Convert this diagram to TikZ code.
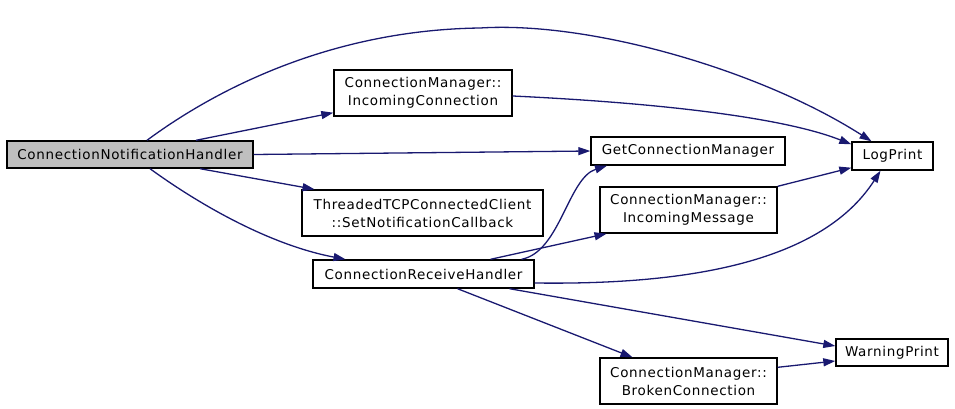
\documentclass[tikz,border=0pt]{standalone}
\usepackage{fontspec}
\setmainfont{DejaVu Sans}[LetterSpace=5]
\usetikzlibrary{arrows.meta}
\definecolor{edgeblue}{RGB}{25,25,112}
\definecolor{rootgray}{RGB}{191,191,191}

\begin{document}
\begin{tikzpicture}[x=1pt, y=-1pt,
    fn/.style={draw=black, line width=1.4pt, fill=white, inner sep=0pt, align=center,
        font=\fontsize{13.5}{18}\selectfont},
    call/.style={draw=edgeblue, line width=1.3pt, -{Triangle[length=12pt, width=8pt]}}]
    \useasboundingbox (0,0) rectangle (955,409);
    \def\h{27}          % one-line box height
    \def\hh{46}         % two-line box height
    % Draw the functions
    \node[fn, fill=rootgray, minimum width=246, minimum height=\h] (cnh) at (130,154.5) {ConnectionNotificationHandler};
    \node[fn, minimum width=178, minimum height=\hh] (incconn) at (423,93) {ConnectionManager::\\IncomingConnection};
    \node[fn, minimum width=241, minimum height=\hh] (setcb) at (422.5,213) {ThreadedTCPConnectedClient\\::SetNotificationCallback};
    \node[fn, minimum width=221, minimum height=\h+1] (recv) at (423.5,274) {ConnectionReceiveHandler};
    \node[fn, minimum width=194, minimum height=\h+1] (getcm) at (688,151) {GetConnectionManager};
    \node[fn, minimum width=177, minimum height=\hh] (incmsg) at (688.5,210) {ConnectionManager::\\IncomingMessage};
    \node[fn, minimum width=81, minimum height=\h+1] (logprint) at (892.5,156) {LogPrint};
    \node[fn, minimum width=177, minimum height=\hh] (broken) at (688.5,381) {ConnectionManager::\\BrokenConnection};
    \node[fn, minimum width=112, minimum height=\h] (warnprint) at (892,352.5) {WarningPrint};
    % Draw the calls of the root
    \draw[call] ([xshift=17pt]cnh.north) .. controls (215,90) and (330,30) .. (480,28)
        .. controls (590,21) and (760,70) .. ([xshift=-21pt]logprint.north);
    \draw[call] ([xshift=66pt]cnh.north) -- ([yshift=4pt]incconn.south west);
    \draw[call] (cnh.east) -- (getcm.west);
    \draw[call] ([xshift=70pt]cnh.south) -- ([xshift=-108pt]setcb.north);
    \draw[call] ([xshift=20pt]cnh.south) .. controls (200,205) and (270,245) .. ([xshift=-78pt]recv.north);
    % Draw the calls of the receive handler
    \draw[call] ([xshift=98pt]recv.north) .. controls (560,252) and (568,178) .. ([xshift=-81pt]getcm.south);
    \draw[call] ([xshift=67pt]recv.north) -- ([xshift=-82pt]incmsg.south);
    \draw[call] ([yshift=-9pt]recv.east) .. controls (680,285) and (820,265) .. ([xshift=-12pt]logprint.south);
    \draw[call] ([xshift=86pt]recv.south) -- ([yshift=6.5pt]warnprint.west);
    \draw[call] ([xshift=34pt]recv.south) -- ([xshift=-56pt]broken.north);
    % Draw the remaining calls
    \draw[call] ([yshift=-3pt]incconn.east) .. controls (680,104) and (790,120) .. ([yshift=-3pt]logprint.north west);
    \draw[call] (incmsg.north east) -- ([yshift=3pt]logprint.south west);
    \draw[call] ([yshift=-10pt]broken.north east) -- ([yshift=-8.5pt]warnprint.west);
\end{tikzpicture}
\end{document}
